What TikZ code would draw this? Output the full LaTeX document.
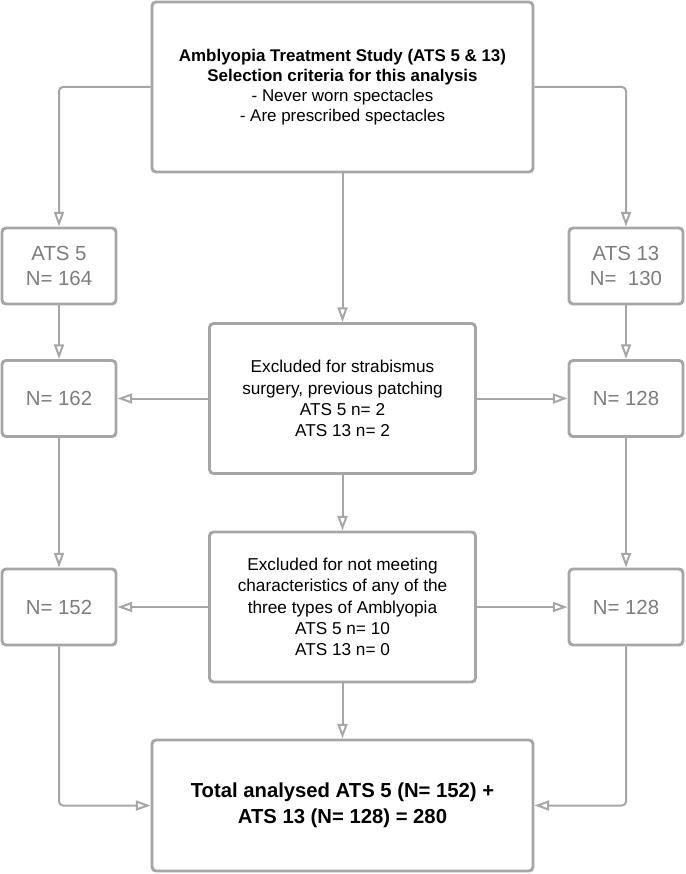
\documentclass[tikz,border=0pt]{standalone}
\usepackage{fontspec}
\setmainfont{Liberation Sans}
\usepackage{tikz}
\usetikzlibrary{arrows.meta}

\definecolor{lineGray}{RGB}{166,166,166}
\definecolor{textGray}{RGB}{125,125,125}

\begin{document}
\begin{tikzpicture}[x=0.75pt, y=-0.75pt,
        box/.style={draw=lineGray, line width=2.2pt, rounded corners=3pt, inner sep=0pt, align=center},
        sidebox/.style={box, minimum width=85.5pt, minimum height=57pt, text=textGray, font=\fontsize{15.3}{19}\selectfont},
        midbox/.style={box, minimum width=199.5pt, minimum height=112.5pt, font=\fontsize{12.9}{15.9}\selectfont},
        conn/.style={draw=lineGray, line width=1.5pt, rounded corners=3pt, -{Triangle[open, length=11pt, width=7.5pt]}}]

        \useasboundingbox (0, 0) rectangle (685, 874);

        % top box
        \node (top) at (342.5, 87)[box, minimum width=285.75pt, minimum height=127.5pt, font=\fontsize{12.7}{15}\selectfont] {\textbf{Amblyopia Treatment Study (ATS 5 \& 13)} \\ \textbf{Selection criteria for this analysis} \\ - Never worn spectacles \\ - Are prescribed spectacles};

        % left column
        \node (ats5) at (59, 266)[sidebox] {ATS 5 \\ N= 164};
        \node (left1) at (59, 398.5)[sidebox] {N= 162};
        \node (left2) at (59, 607)[sidebox] {N= 152};

        % right column
        \node (ats13) at (626, 266)[sidebox] {ATS 13 \\ N=\ \ 130};
        \node (right1) at (626, 398.5)[sidebox] {N= 128};
        \node (right2) at (626, 607)[sidebox] {N= 128};

        % middle column
        \node (excl1) at (342.5, 398.5)[midbox] {Excluded for strabismus \\ surgery, previous patching \\ ATS 5 n= 2 \\ ATS 13 n= 2};
        \node (excl2) at (342.5, 607)[midbox] {Excluded for not meeting \\ characteristics of any of the \\ three types of Amblyopia \\ ATS 5 n= 10 \\ ATS 13 n= 0};

        \node (total) at (342.5, 805.5)[box, minimum width=285.75pt, minimum height=98.25pt, font=\fontsize{15.2}{19.5}\selectfont\bfseries] {Total analysed ATS 5 (N= 152) + \\ ATS 13 (N= 128) = 280};

        % connectors
        \draw[conn] (top.west) -| (ats5);
        \draw[conn] (top.east) -| (ats13);
        \draw[conn] (top) -- (excl1);
        \draw[conn] (excl1) -- (excl2);
        \draw[conn] (excl2) -- (total);

        \draw[conn] (ats5) -- (left1);
        \draw[conn] (left1) -- (left2);
        \draw[conn] (left2) |- (total.west);

        \draw[conn] (ats13) -- (right1);
        \draw[conn] (right1) -- (right2);
        \draw[conn] (right2) |- (total.east);

        \draw[conn] (excl1) -- (left1);
        \draw[conn] (excl1) -- (right1);
        \draw[conn] (excl2) -- (left2);
        \draw[conn] (excl2) -- (right2);
    \end{tikzpicture}
\end{document}
